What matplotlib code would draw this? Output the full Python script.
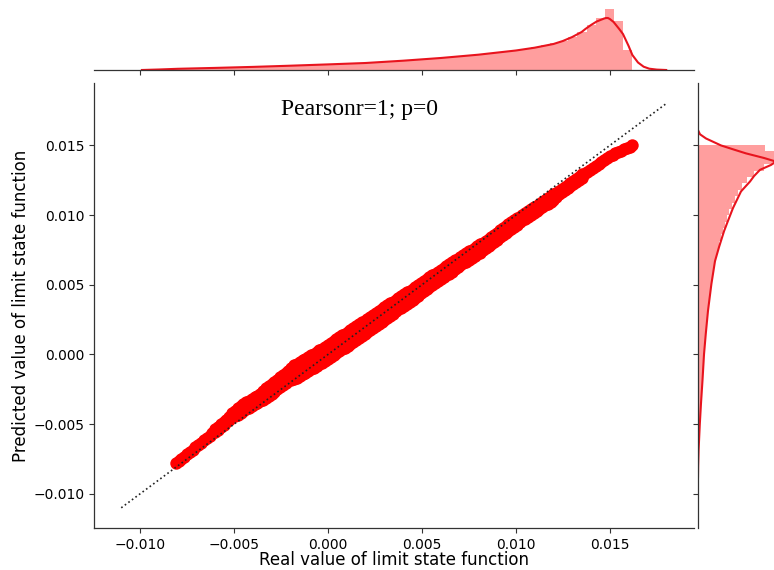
import matplotlib
matplotlib.use('Agg')
import matplotlib.pyplot as plt
import numpy as np

plt.rcParams['font.family'] = 'DejaVu Sans'

# real vs predicted limit state values, centre line of the cloud
real = [-0.0081, -0.0078, -0.0075, -0.0072, -0.0069, -0.0066, -0.0063, -0.0060, -0.0057, -0.0054,
        -0.0051, -0.0048, -0.0045, -0.0042, -0.0039, -0.0036, -0.0033, -0.0030, -0.0027, -0.0024,
        -0.0021, -0.0018, -0.0015, -0.0012, -0.0009, -0.0006, -0.0003, 0.0000, 0.0003, 0.0006,
        0.0009, 0.0012, 0.0015, 0.0018, 0.0021, 0.0024, 0.0027, 0.0030, 0.0033, 0.0036,
        0.0039, 0.0042, 0.0045, 0.0048, 0.0051, 0.0054, 0.0057, 0.0060, 0.0063, 0.0066,
        0.0069, 0.0072, 0.0075, 0.0078, 0.0081, 0.0084, 0.0087, 0.0090, 0.0093, 0.0096,
        0.0099, 0.0102, 0.0105, 0.0108, 0.0111, 0.0114, 0.0117, 0.0120, 0.0123, 0.0126,
        0.0129, 0.0132, 0.0135, 0.0138, 0.0141, 0.0144, 0.0147, 0.0150, 0.0153, 0.0156,
        0.0159, 0.0162]
pred = [-0.00780, -0.00748, -0.00716, -0.00683, -0.00651, -0.00617, -0.00582, -0.00547, -0.00512, -0.00477,
        -0.00442, -0.00413, -0.00387, -0.00361, -0.00335, -0.00309, -0.00279, -0.00247, -0.00215, -0.00183,
        -0.00151, -0.00124, -0.00100, -0.00076, -0.00052, -0.00028, -0.00004, 0.00020, 0.00047, 0.00073,
        0.00100, 0.00127, 0.00153, 0.00180, 0.00208, 0.00236, 0.00264, 0.00293, 0.00321, 0.00349,
        0.00377, 0.00405, 0.00433, 0.00461, 0.00489, 0.00518, 0.00546, 0.00574, 0.00602, 0.00630,
        0.00656, 0.00683, 0.00709, 0.00735, 0.00761, 0.00790, 0.00820, 0.00850, 0.00880, 0.00910,
        0.00940, 0.00968, 0.00995, 0.01022, 0.01049, 0.01076, 0.01103, 0.01130, 0.01160, 0.01190,
        0.01220, 0.01250, 0.01280, 0.01308, 0.01336, 0.01364, 0.01393, 0.01421, 0.01443, 0.01462,
        0.01481, 0.01500]

# samples lying between the centre-line samples
real_b = [-0.00795, -0.00765, -0.00735, -0.00705, -0.00675, -0.00645, -0.00615, -0.00585, -0.00555, -0.00525,
          -0.00495, -0.00465, -0.00435, -0.00405, -0.00375, -0.00345, -0.00315, -0.00285, -0.00255, -0.00225,
          -0.00195, -0.00165, -0.00135, -0.00105, -0.00075, -0.00045, -0.00015, 0.00015, 0.00045, 0.00075,
          0.00105, 0.00135, 0.00165, 0.00195, 0.00225, 0.00255, 0.00285, 0.00315, 0.00345, 0.00375,
          0.00405, 0.00435, 0.00465, 0.00495, 0.00525, 0.00555, 0.00585, 0.00615, 0.00645, 0.00675,
          0.00705, 0.00735, 0.00765, 0.00795, 0.00825, 0.00855, 0.00885, 0.00915, 0.00945, 0.00975,
          0.01005, 0.01035, 0.01065, 0.01095, 0.01125, 0.01155, 0.01185, 0.01215, 0.01245, 0.01275,
          0.01305, 0.01335, 0.01365, 0.01395, 0.01425, 0.01455, 0.01485, 0.01515, 0.01545, 0.01575,
          0.01605]
pred_b = [-0.00764, -0.00732, -0.00700, -0.00667, -0.00634, -0.00600, -0.00565, -0.00530, -0.00495, -0.00460,
          -0.00428, -0.00400, -0.00374, -0.00348, -0.00322, -0.00294, -0.00263, -0.00231, -0.00199, -0.00167,
          -0.00138, -0.00112, -0.00088, -0.00064, -0.00040, -0.00016, 0.00008, 0.00034, 0.00060, 0.00087,
          0.00114, 0.00140, 0.00167, 0.00194, 0.00222, 0.00250, 0.00279, 0.00307, 0.00335, 0.00363,
          0.00391, 0.00419, 0.00447, 0.00475, 0.00504, 0.00532, 0.00560, 0.00588, 0.00616, 0.00643,
          0.00670, 0.00696, 0.00722, 0.00748, 0.00776, 0.00805, 0.00835, 0.00865, 0.00895, 0.00925,
          0.00954, 0.00982, 0.01009, 0.01036, 0.01063, 0.01090, 0.01117, 0.01145, 0.01175, 0.01205,
          0.01235, 0.01265, 0.01294, 0.01322, 0.01350, 0.01379, 0.01407, 0.01432, 0.01453, 0.01472,
          0.01491]

# upper and lower edge of the cloud over the middle range (at real[7:73])
pred_hi = [-0.00537, -0.00502, -0.00467, -0.00422, -0.00383, -0.00357, -0.00331, -0.00305, -0.00284, -0.00244,
           -0.00212, -0.00180, -0.00148, -0.00116, -0.00079, -0.00055, -0.00031, -0.00007, 0.00017, 0.00041,
           0.00070, 0.00097, 0.00123, 0.00150, 0.00177, 0.00203, 0.00230, 0.00253, 0.00281, 0.00309,
           0.00338, 0.00366, 0.00389, 0.00417, 0.00445, 0.00473, 0.00501, 0.00524, 0.00553, 0.00581,
           0.00609, 0.00637, 0.00665, 0.00686, 0.00713, 0.00739, 0.00765, 0.00791, 0.00815, 0.00845,
           0.00875, 0.00905, 0.00935, 0.00965, 0.00988, 0.01015, 0.01042, 0.01069, 0.01096, 0.01123,
           0.01150, 0.01172, 0.01202, 0.01232, 0.01262, 0.01292]
pred_lo = [-0.00557, -0.00522, -0.00487, -0.00452, -0.00433, -0.00407, -0.00381, -0.00355, -0.00334, -0.00314,
           -0.00282, -0.00250, -0.00218, -0.00186, -0.00179, -0.00155, -0.00131, -0.00107, -0.00083, -0.00059,
           -0.00030, -0.00003, 0.00023, 0.00050, 0.00077, 0.00103, 0.00130, 0.00163, 0.00191, 0.00219,
           0.00248, 0.00276, 0.00309, 0.00337, 0.00365, 0.00393, 0.00421, 0.00454, 0.00483, 0.00511,
           0.00539, 0.00567, 0.00595, 0.00626, 0.00653, 0.00679, 0.00705, 0.00731, 0.00765, 0.00795,
           0.00825, 0.00855, 0.00885, 0.00915, 0.00948, 0.00975, 0.01002, 0.01029, 0.01056, 0.01083,
           0.01110, 0.01148, 0.01178, 0.01208, 0.01238, 0.01268]

# upper and lower edge between those samples (at real_b[7:72])
pred_hi_b = [-0.00520, -0.00485, -0.00445, -0.00403, -0.00370, -0.00344, -0.00318, -0.00295, -0.00264, -0.00228,
             -0.00196, -0.00164, -0.00132, -0.00098, -0.00067, -0.00043, -0.00019, 0.00005, 0.00029, 0.00056,
             0.00084, 0.00110, 0.00137, 0.00164, 0.00190, 0.00217, 0.00242, 0.00267, 0.00295, 0.00324,
             0.00352, 0.00378, 0.00403, 0.00431, 0.00459, 0.00487, 0.00513, 0.00539, 0.00567, 0.00595,
             0.00623, 0.00651, 0.00676, 0.00700, 0.00726, 0.00752, 0.00778, 0.00803, 0.00830, 0.00860,
             0.00890, 0.00920, 0.00950, 0.00977, 0.01002, 0.01029, 0.01056, 0.01083, 0.01110, 0.01137,
             0.01161, 0.01187, 0.01217, 0.01247, 0.01277]
pred_lo_b = [-0.00540, -0.00505, -0.00470, -0.00443, -0.00420, -0.00394, -0.00368, -0.00345, -0.00324, -0.00298,
             -0.00266, -0.00234, -0.00202, -0.00183, -0.00167, -0.00143, -0.00119, -0.00095, -0.00071, -0.00045,
             -0.00017, 0.00010, 0.00037, 0.00064, 0.00090, 0.00117, 0.00147, 0.00177, 0.00205, 0.00234,
             0.00262, 0.00293, 0.00323, 0.00351, 0.00379, 0.00407, 0.00438, 0.00469, 0.00497, 0.00525,
             0.00553, 0.00581, 0.00611, 0.00640, 0.00666, 0.00692, 0.00718, 0.00748, 0.00780, 0.00810,
             0.00840, 0.00870, 0.00900, 0.00932, 0.00962, 0.00989, 0.01016, 0.01043, 0.01070, 0.01097,
             0.01129, 0.01163, 0.01193, 0.01223, 0.01253]

# marginal of the real values: 50 bins from -0.0082 to 0.0162
x_edges = np.linspace(-0.0082, 0.0162, 51)
x_hist = [1.3, 1.5, 1.7, 1.9, 2.1, 2.4, 2.7, 2.9, 3.2, 3.5,
          3.7, 4.0, 4.3, 4.6, 4.9, 5.2, 5.5, 5.8, 6.2, 6.6,
          7.0, 7.4, 7.9, 8.5, 9.1, 9.7, 10.4, 11.0, 11.7, 12.4,
          13.2, 14.0, 14.8, 15.7, 16.6, 17.6, 18.6, 19.8, 21.2, 22.8,
          24.6, 26.6, 29.0, 33.0, 38.0, 45.0, 52.0, 61.0, 49.0, 20.0]
x_kde = [-0.0099, -0.0090, -0.0080, -0.0060, -0.0040, -0.0020, 0.0000, 0.0020, 0.0040, 0.0060,
         0.0080, 0.0100, 0.0110, 0.0120, 0.0125, 0.0130, 0.0135, 0.0137, 0.0140, 0.0143,
         0.0145, 0.0147, 0.0148, 0.0149, 0.0150, 0.0152, 0.0155, 0.0157, 0.0160, 0.0162,
         0.0165, 0.0168, 0.0171, 0.0175, 0.0180]
x_kde_d = [0, 0.5, 1.2, 2.1, 3.1, 4.3, 5.6, 7.0, 9.3, 12.0,
           15.3, 19.5, 22.3, 26.0, 29.0, 33.0, 38.0, 41.0, 45.0, 48.5,
           50.0, 51.5, 52.0, 52.0, 51.0, 48.0, 41.0, 36.0, 24.0, 15.0,
           7.5, 3.3, 1.3, 0.4, 0]

# marginal of the predicted values: 50 bins from -0.0079 to 0.01503
y_edges = np.linspace(-0.0079, 0.01503, 51)
y_hist = [0.4, 0.6, 0.8, 1.0, 1.3, 1.6, 1.9, 2.2, 2.6, 3.0,
          3.4, 3.8, 4.2, 4.6, 5.0, 5.4, 5.8, 6.2, 6.7, 7.3,
          7.9, 8.5, 9.1, 9.8, 10.5, 11.2, 12.0, 12.9, 13.8, 14.8,
          15.8, 17.0, 18.3, 19.7, 21.2, 22.8, 24.6, 26.5, 28.6, 31.0,
          33.6, 36.5, 40.0, 44.0, 49.0, 56.0, 66.0, 80.0, 84.0, 67.0]
y_kde = [0.0161, 0.0158, 0.0155, 0.0150, 0.0147, 0.01443, 0.0141, 0.01384, 0.0136, 0.01325,
         0.0128, 0.01241, 0.0117, 0.01051, 0.0095, 0.00884, 0.0077, 0.0067, 0.00506, 0.00314,
         0.0015, 0.0000, -0.00185, -0.0035, -0.0050, -0.00685, -0.0080, -0.0088]
y_kde_d = [0, 2, 8, 23, 36, 48, 66, 78, 73, 62,
           56, 52, 43, 35, 29.5, 26, 21, 17, 13.4, 10,
           7.8, 6, 4.5, 3, 1.8, 0.6, 0.15, 0]

ticks = [-0.010, -0.005, 0.000, 0.005, 0.010, 0.015]
lims = (-0.01245, 0.01948)
RED = '#FF0000'
LINE = '#E8141E'
FILL = '#FF9E9E'
DOT = 80

fig = plt.figure(figsize=(7.74, 5.70), dpi=100)
ax = fig.add_axes([94/774, 42/570, 600/774, 445/570])
ax_top = fig.add_axes([94/774, 500/570, 600/774, 89/570])
ax_r = fig.add_axes([698/774, 42/570, 120/774, 445/570])

# joint scatter
groups = [(real, pred), (real_b, pred_b),
          (real[7:73], pred_hi), (real[7:73], pred_lo),
          (real_b[7:72], pred_hi_b), (real_b[7:72], pred_lo_b)]
for xs, ys in groups:
    ax.scatter(xs, ys, s=DOT, color=RED, linewidths=0, zorder=2)
ax.plot([-0.011, 0.018], [-0.011, 0.018], ls=':', color='#222222', lw=1.2, zorder=3)
ax.text(0.00168, 0.01756, 'Pearsonr=1; p=0', family='Liberation Serif', size=17,
        ha='center', va='center', color='black')
ax.set_xlim(lims); ax.set_ylim(lims)
ax.set_xticks(ticks); ax.set_yticks(ticks)
ax.set_xticklabels([f'{t:.3f}'.replace('-', '\u2212') for t in ticks])
ax.set_yticklabels([f'{t:.3f}'.replace('-', '\u2212') for t in ticks])
ax.set_xlabel('Real value of limit state function', size=12, labelpad=-0.5)
ax.set_ylabel('Predicted value of limit state function', size=12, labelpad=2.5)
for s in ['top', 'right']:
    ax.spines[s].set_visible(False)
ax.tick_params(labelsize=10, length=3.5, width=0.8, color='#333333')

# top marginal
ax_top.bar(x_edges[:-1], x_hist, width=np.diff(x_edges), align='edge', color=FILL, lw=0)
ax_top.plot(x_kde, x_kde_d, color=LINE, lw=1.5)
ax_top.set_xlim(lims); ax_top.set_ylim(0, 89)
ax_top.set_xticks(ticks); ax_top.set_xticklabels([])
ax_top.set_yticks([])
for s in ['top', 'right', 'left']:
    ax_top.spines[s].set_visible(False)
ax_top.tick_params(length=3.5, width=0.8, color='#333333')

# right marginal
ax_r.barh(y_edges[:-1], y_hist, height=np.diff(y_edges), align='edge', color=FILL, lw=0)
ax_r.plot(y_kde_d, y_kde, color=LINE, lw=1.5)
ax_r.set_ylim(lims); ax_r.set_xlim(0, 120)
ax_r.set_yticks(ticks); ax_r.set_yticklabels([])
ax_r.set_xticks([])
for s in ['top', 'right', 'bottom']:
    ax_r.spines[s].set_visible(False)
ax_r.tick_params(length=3.5, width=0.8, color='#333333')

for a in (ax, ax_top, ax_r):
    for sp in a.spines.values():
        sp.set_color('#333333'); sp.set_linewidth(0.9)

fig.savefig('out.png', dpi=100, facecolor='white')
